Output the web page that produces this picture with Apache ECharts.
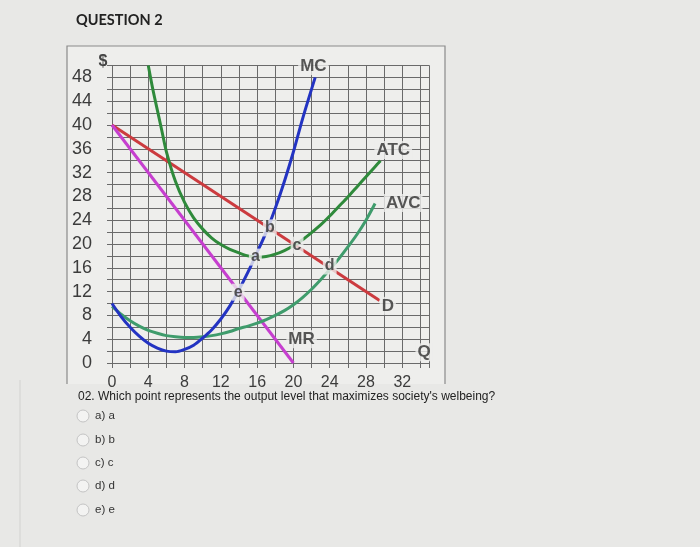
<!DOCTYPE html>
<html>
<head>
<meta charset="utf-8">
<script src="https://cdn.jsdelivr.net/npm/echarts@6/dist/echarts.min.js"></script>
<style>
html,body{margin:0;padding:0;background:#e8e8e6;}
#c{width:700px;height:547px;}
</style>
</head>
<body>
<div id="c"></div>
<script>
// Demand and marginal revenue (straight lines)
const demandQ = [0, 29.5];
const demandP = [40, 10.5];
const mrQ = [0, 20];
const mrP = [40, 0];
// Marginal cost
const mcQ = [0, 1, 2, 3, 4, 5, 6, 7, 8, 9, 10, 11, 12, 13, 14, 15, 16, 17, 18, 19, 20, 21, 22.4];
const mcP = [10, 7.8, 6, 4.5, 3.3, 2.5, 2, 1.9, 2.3, 3, 4.2, 5.6, 7.4, 9.6, 12.3, 15.3, 18.6, 22, 26, 30.5, 35.5, 41, 48];
// Average total cost
const atcQ = [4, 4.5, 5, 5.5, 6, 7, 8, 9, 10, 11, 12, 13, 14, 15, 16, 17, 18, 19, 20, 21, 22, 23, 24, 25, 26, 27, 28, 29, 29.6];
const atcP = [50, 46, 42.5, 39, 35.5, 30.5, 27, 24.4, 22.5, 21, 19.9, 19.1, 18.5, 18.0, 17.8, 17.9, 18.3, 18.9, 19.7, 20.7, 21.9, 23.2, 24.7, 26.3, 27.9, 29.6, 31.3, 33, 34];
// Average variable cost
const avcQ = [0, 1, 2, 3, 4, 5, 6, 7, 8, 9, 10, 11, 12, 13, 14, 15, 16, 17, 18, 19, 20, 21, 22, 23, 24, 25, 26, 27, 28, 29];
const avcP = [9.5, 8.2, 7.1, 6.2, 5.5, 5, 4.6, 4.4, 4.3, 4.3, 4.4, 4.6, 4.9, 5.3, 5.8, 6.2, 6.7, 7.3, 8.0, 8.8, 9.8, 11, 12.4, 14, 15.7, 17.5, 19.5, 21.6, 24, 26.8];
// Labels on the chart
const labelText = ['MC', 'ATC', 'AVC', 'D', 'MR', 'Q', 'a', 'b', 'c', 'd', 'e'];
const labelQ = [22.2, 31.0, 32.1, 30.4, 20.9, 34.4, 15.8, 17.4, 20.4, 24.0, 13.9];
const labelP = [49.9, 35.8, 26.9, 9.6, 4.0, 1.8, 17.8, 22.7, 19.8, 16.3, 11.9];
// Axis tick labels
const xTickLabels = [0, 4, 8, 12, 16, 20, 24, 28, 32];
const yTickLabels = [0, 4, 8, 12, 16, 20, 24, 28, 32, 36, 40, 44, 48];
// Question text
const titleText = 'QUESTION 2';
const questionText = "02. Which point represents the output level that maximizes society's welbeing?";
const options = ['a) a', 'b) b', 'c) c', 'd) d', 'e) e'];

const pairs = (xs, ys) => xs.map((x, i) => [x, ys[i]]);
const BG = '#eeeeec';
const GRID = '#6a6a6a';

const chart = echarts.init(document.getElementById('c'), null, {renderer: 'canvas'});

function lineSeries(name, xs, ys, color, smooth) {
  return {
    name: name, type: 'line', data: pairs(xs, ys), showSymbol: false, symbol: 'none',
    smooth: smooth, lineStyle: {color: color, width: 3}, z: 3, clip: false, animation: false
  };
}

const graphics = [
  {type: 'rect', z: -10, shape: {x: 67, y: 46, width: 378, height: 338}, style: {fill: BG}},
  {type: 'polyline', z: -9, shape: {points: [[67, 384], [67, 46], [445, 46], [445, 384]]}, style: {stroke: '#8a8a8a', lineWidth: 1.2, fill: null}},
  {type: 'line', z: -9, shape: {x1: 20, y1: 380, x2: 20, y2: 547}, style: {stroke: '#d2d2d0', lineWidth: 1}},
  {type: 'text', style: {x: 76, y: 20, text: titleText, font: 'bold 14.5px Lato, "Open Sans", sans-serif', fill: '#222', textVerticalAlign: 'middle'}},
  {type: 'text', style: {x: 103, y: 62, text: '$', font: 'bold 16px "Liberation Sans", Arial, sans-serif', fill: '#444', textAlign: 'center', textVerticalAlign: 'middle'}},
  {type: 'text', style: {x: 78, y: 397, text: questionText, font: '12px "Liberation Sans", Arial, sans-serif', fill: '#222', textVerticalAlign: 'middle'}}
];
const optY = [416, 440, 463, 486, 510];
options.forEach((t, i) => {
  graphics.push({type: 'circle', shape: {cx: 83, cy: optY[i], r: 6}, style: {fill: '#f3f3f2', stroke: '#c4c4c4', lineWidth: 1}});
  graphics.push({type: 'text', style: {x: 95, y: optY[i], text: t, font: '11.5px "Liberation Sans", Arial, sans-serif', fill: '#333', textVerticalAlign: 'middle'}});
});

chart.setOption({
  backgroundColor: '#e8e8e6',
  animation: false,
  grid: {left: 112, top: 65.5, width: 317.5, height: 297.5, containLabel: false},
  xAxis: {
    type: 'value', min: 0, max: 35, interval: 2,
    axisLine: {show: true, lineStyle: {color: GRID, width: 1}},
    axisTick: {show: true, inside: false, length: 5, lineStyle: {color: GRID}},
    splitLine: {show: true, lineStyle: {color: GRID, width: 1}},
    axisLabel: {
      margin: 12, fontSize: 16, color: '#3c3c3c', fontFamily: '"Liberation Sans", Arial, sans-serif',
      formatter: v => xTickLabels.includes(v) ? String(v) : ''
    }
  },
  yAxis: {
    type: 'value', min: 0, max: 50, interval: 2,
    axisLine: {show: true, lineStyle: {color: GRID, width: 1}},
    axisTick: {show: true, inside: false, length: 5, lineStyle: {color: GRID}},
    splitLine: {show: true, lineStyle: {color: GRID, width: 1}},
    axisLabel: {
      margin: 20, fontSize: 18, color: '#3c3c3c', fontFamily: '"Liberation Sans", Arial, sans-serif',
      formatter: v => yTickLabels.includes(v) ? String(v) : ''
    }
  },
  series: [
    lineSeries('D', demandQ, demandP, '#cc3b3f', false),
    lineSeries('MR', mrQ, mrP, '#c63fcf', false),
    lineSeries('ATC', atcQ, atcP, '#2f8a3b', 0.3),
    lineSeries('AVC', avcQ, avcP, '#3f9c6c', 0.3),
    lineSeries('MC', mcQ, mcP, '#2333c2', 0.3),
    {
      name: 'labels', type: 'scatter', z: 10, clip: false, animation: false,
      symbolSize: 1, itemStyle: {color: 'rgba(0,0,0,0)'},
      data: labelText.map((t, i) => ({
        value: [labelQ[i], labelP[i]], name: t,
        label: {fontSize: t.length === 1 && t === t.toLowerCase() ? 16 : 17}
      })),
      label: {
        show: true, position: 'inside', formatter: p => p.name,
        color: '#2e2e2e', fontWeight: 'bold', fontFamily: '"Liberation Sans", Arial, sans-serif',
        backgroundColor: BG, padding: [1, 2, 0, 2]
      },
      emphasis: {disabled: true}
    }
  ],
  graphic: graphics
});
</script>
</body>
</html>
